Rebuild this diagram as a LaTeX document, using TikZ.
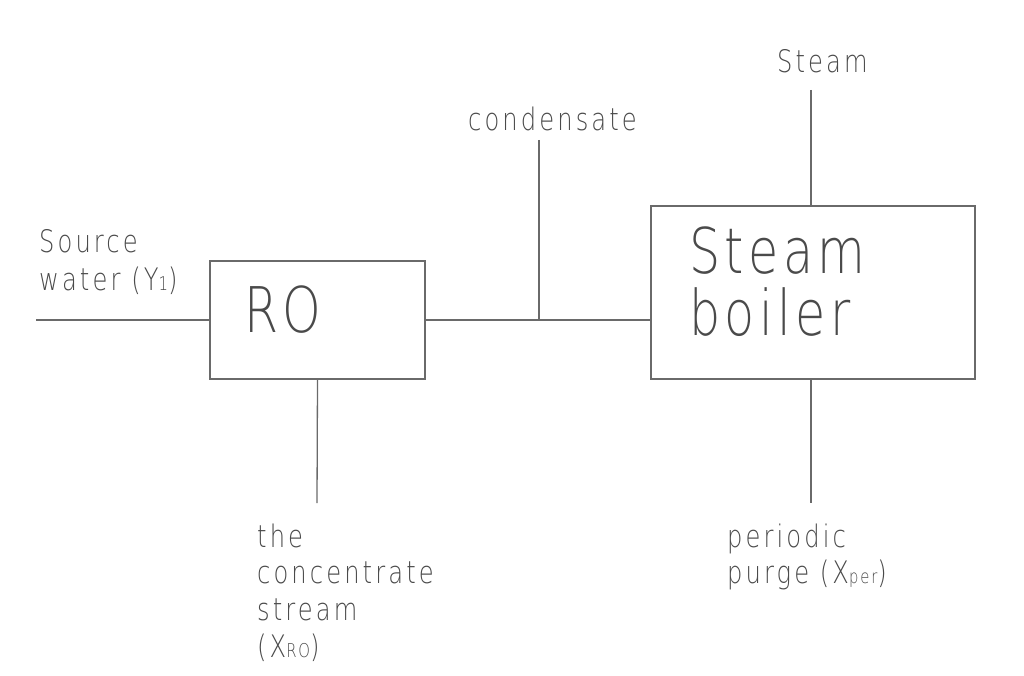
\documentclass[tikz,border=0pt]{standalone}
\usepackage{fontspec}
\setmainfont{DejaVu Sans ExtraLight}[FakeStretch=0.78, LetterSpace=10]
\newfontfamily\bigfam{DejaVu Sans ExtraLight}[FakeStretch=0.78, LetterSpace=7]
\definecolor{linec}{HTML}{6A6A6A}
\definecolor{textc}{HTML}{4A4A4A}
\newcommand{\lblfs}{\fontsize{31}{36}\selectfont}
\newcommand{\bigfs}{\bigfam\fontsize{63}{70}\selectfont}
\newcommand{\subs}[1]{{\fontsize{19}{22}\selectfont #1}}
\begin{document}
\begin{tikzpicture}[x=1pt,y=-1pt,
  flow/.style={draw=linec, line width=1.3pt},
  unit/.style={draw=linec, line width=1.3pt, rectangle, inner sep=0pt},
  txt/.style={text=textc, inner sep=0pt, anchor=base west, font=\lblfs},
  bigtxt/.style={text=textc, inner sep=0pt, anchor=base west, font=\bigfs}]
\useasboundingbox (0,0) rectangle (1024,676);
% boxes
\node[unit, minimum width=215pt, minimum height=118pt] (ro) at (317.5,320) {};
\node[unit, minimum width=324pt, minimum height=173pt] (boiler) at (813,292.5) {};
% box texts
\node[bigtxt] (rot) at (244,332) {RO};
\node[bigtxt] (bt1) at (689,273) {Steam};
\node[bigtxt] (bt2) at (689,335) {boiler};
% coordinates
\coordinate (src) at (36,320);
\coordinate (jn) at (539,320);
\coordinate (cond) at (539,140);
\coordinate (stm) at (811,90);
\coordinate (bin) at (811,206);
\coordinate (bout) at (811,379);
\coordinate (purge) at (811,503);
\coordinate (conc) at (317,503);
% connectors
\draw[flow] (src) -- (ro.west);
\draw[flow] (ro.east) -- (jn) -- (boiler.west |- jn);
\draw[flow] (cond) -- (jn);
\draw[flow] (stm) -- (bin);
\draw[flow] (bout) -- (purge);
\draw[flow] (ro.south) -- (conc);
% labels
\node[txt] (l1) at (39,252) {Source};
\node[txt] (l2) at (39,290) {water (Y\subs{1})};
\node[txt] (l3) at (468,131) {condensate};
\node[txt] (l4) at (777,73) {Steam};
\node[txt] (l5) at (257,547) {the};
\node[txt] (l6) at (257,583) {concentrate};
\node[txt] (l7) at (257,620) {stream};
\node[txt] (l8) at (257,657) {(X\subs{RO})};
\node[txt] (l9) at (727,547) {periodic};
\node[txt] (l10) at (727,583) {purge (X\subs{per})};
\end{tikzpicture}
\end{document}
